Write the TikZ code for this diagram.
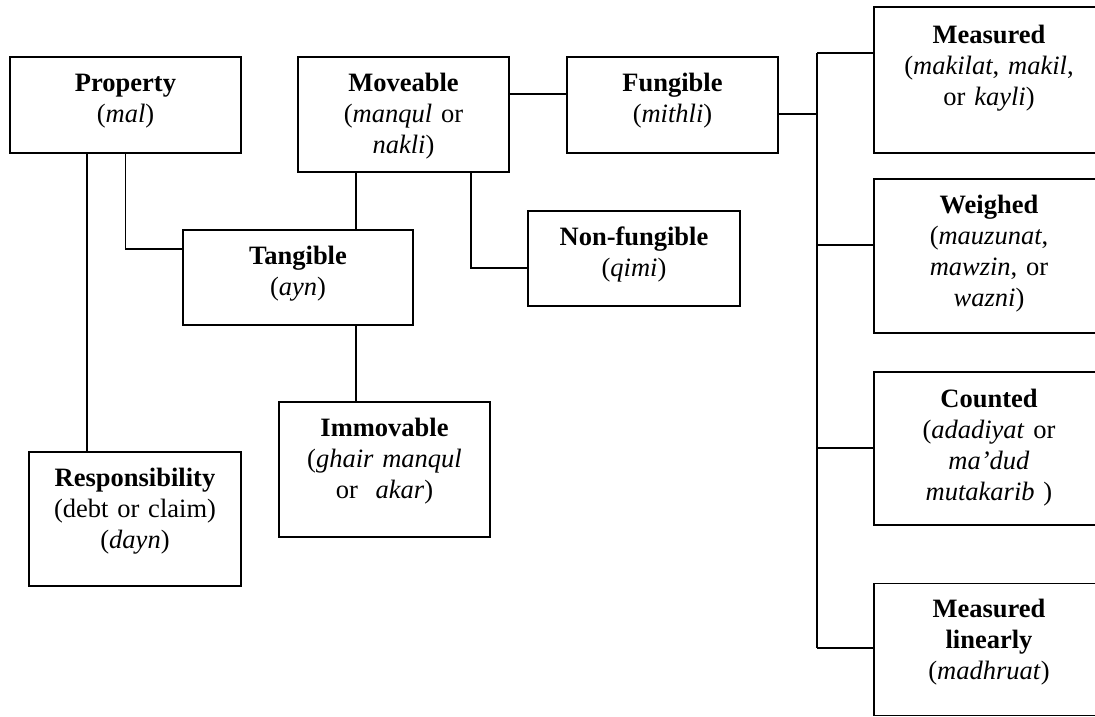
\documentclass[tikz,border=0pt]{standalone}
\usepackage{fontspec}
\setmainfont{Liberation Serif}
\begin{document}
\begin{tikzpicture}[x=1pt,y=-1pt,
  box/.style={draw, line width=1.8pt, rectangle, inner sep=0pt},
  txt/.style={anchor=base, align=center, text width=260pt, inner sep=0pt,
    font=\fontsize{26.5}{31}\selectfont},
  conn/.style={line width=1.8pt}]
\useasboundingbox (0,0) rectangle (1095,717);
\clip (0,0) rectangle (1095,717);
% boxes
\node[box, minimum width=231pt, minimum height=96pt]  (prop)  at (125.5,105) {};
\node[box, minimum width=211pt, minimum height=115pt] (move)  at (403.5,114.5) {};
\node[box, minimum width=211pt, minimum height=96pt]  (fung)  at (672.5,105) {};
\node[box, minimum width=230pt, minimum height=95pt]  (tang)  at (298,277.5) {};
\node[box, minimum width=212pt, minimum height=95pt]  (nonf)  at (634,258.5) {};
\node[box, minimum width=211pt, minimum height=135pt] (immov) at (384.5,469.5) {};
\node[box, minimum width=212pt, minimum height=134pt] (resp)  at (135,519) {};
\node[box, minimum width=230pt, minimum height=146pt] (meas)  at (989,80) {};
\node[box, minimum width=230pt, minimum height=154pt] (weigh) at (989,256) {};
\node[box, minimum width=230pt, minimum height=153pt] (count) at (989,448.5) {};
\node[box, minimum width=230pt, minimum height=132pt] (lin)   at (989,649.5) {};
% texts
\node[txt] (propt)  at ([yshift=-35pt]prop.north)  {\textbf{Property}\\(\textit{mal})};
\node[txt] (movet)  at ([yshift=-35pt]move.north)  {\textbf{Moveable}\\(\textit{manqul} or\\\textit{nakli})};
\node[txt] (fungt)  at ([yshift=-35pt]fung.north)  {\textbf{Fungible}\\(\textit{mithli})};
\node[txt] (tangt)  at ([yshift=-35pt]tang.north)  {\textbf{Tangible}\\(\textit{ayn})};
\node[txt] (nonft)  at ([yshift=-35pt]nonf.north)  {\textbf{Non-fungible}\\(\textit{qimi})};
\node[txt] (immovt) at ([yshift=-35pt]immov.north) {\textbf{Immovable}\\(\textit{ghair manqul}\\or~~\textit{akar})};
\node[txt] (respt)  at ([yshift=-35pt]resp.north)  {\textbf{Responsibility}\\(debt or claim)\\(\textit{dayn})};
\node[txt] (meast)  at ([yshift=-37pt]meas.north)  {\textbf{Measured}\\(\textit{makilat}, \textit{makil},\\or \textit{kayli})};
\node[txt] (weight) at ([yshift=-35pt]weigh.north) {\textbf{Weighed}\\(\textit{mauzunat},\\\textit{mawzin}, or\\\textit{wazni})};
\node[txt] (countt) at ([yshift=-36pt]count.north) {\textbf{Counted}\\(\textit{adadiyat} or\\\textit{ma’dud}\\\textit{mutakarib} )};
\node[txt] (lint)   at ([yshift=-35pt]lin.north)   {\textbf{Measured}\\\textbf{linearly}\\(\textit{madhruat})};
% connectors
\coordinate (bt) at (817,53);
\coordinate (bj) at (817,114);
\coordinate (bb) at (817,648);
\draw[conn] (prop.south -| 87,0) -- (resp.north -| 87,0);
\draw[conn] (prop.south) |- (tang.west |- 0,249);
\draw[conn] (move.south -| 356,0) -- (tang.north -| 356,0);
\draw[conn] (tang.south -| 356,0) -- (immov.north -| 356,0);
\draw[conn] (move.south -| 471,0) |- (nonf.west |- 0,268);
\draw[conn] (move.east |- 0,94) -- (fung.west |- 0,94);
\draw[conn] (fung.east |- bj) -- (bj);
\draw[conn] (bt) -- (bb);
\draw[conn] (bt) -- (meas.west |- bt);
\draw[conn] (weigh.west |- 0,245) -- (817,245);
\draw[conn] (count.west |- 0,448) -- (817,448);
\draw[conn] (bb) -- (lin.west |- bb);
\end{tikzpicture}
\end{document}
